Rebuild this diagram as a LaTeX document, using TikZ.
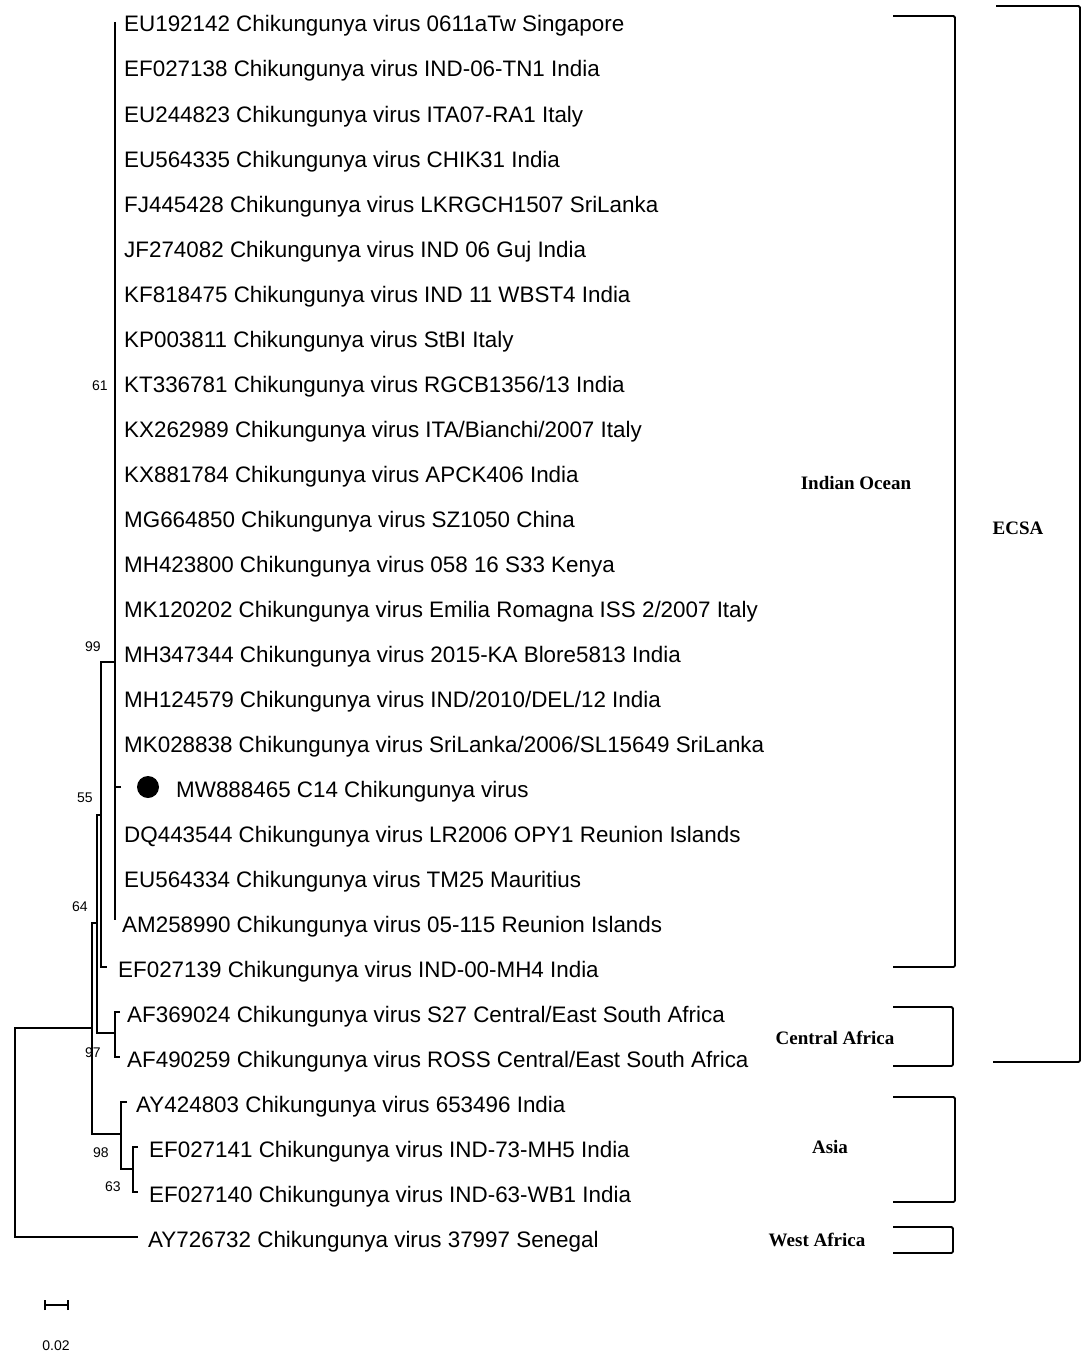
\documentclass[tikz,border=0pt]{standalone}
\usepackage{fontspec}
\setmainfont{Liberation Serif}
\setsansfont{Liberation Sans}
\tikzset{
  branch/.style={line width=1.3pt},
  bracket/.style={line width=1.8pt, rounded corners=1.5pt},
  tip/.style={anchor=base west, inner sep=0pt, font=\sffamily\fontsize{22.4}{26}\selectfont},
  boot/.style={inner sep=0pt, font=\sffamily\fontsize{14}{16}\selectfont},
  clade/.style={inner sep=0pt, font=\bfseries\fontsize{19}{22}\selectfont}
}
\begin{document}
\begin{tikzpicture}[x=1pt,y=-1pt]
\useasboundingbox (0,0) rectangle (1084,1354);

% taxa
\node[tip] (t1) at (124,32) {EU192142 Chikungunya virus 0611aTw Singapore};
\node[tip] (t2) at (124,77) {EF027138 Chikungunya virus IND-06-TN1 India};
\node[tip] (t3) at (124,122) {EU244823 Chikungunya virus ITA07-RA1 Italy};
\node[tip] (t4) at (124,167) {EU564335 Chikungunya virus CHIK31 India};
\node[tip] (t5) at (124,212) {FJ445428 Chikungunya virus LKRGCH1507 SriLanka};
\node[tip] (t6) at (124,257) {JF274082 Chikungunya virus IND 06 Guj India};
\node[tip] (t7) at (124,302) {KF818475 Chikungunya virus IND 11 WBST4 India};
\node[tip] (t8) at (124,347) {KP003811 Chikungunya virus StBI Italy};
\node[tip] (t9) at (124,392) {KT336781 Chikungunya virus RGCB1356/13 India};
\node[tip] (t10) at (124,437) {KX262989 Chikungunya virus ITA/Bianchi/2007 Italy};
\node[tip] (t11) at (124,482) {KX881784 Chikungunya virus APCK406 India};
\node[tip] (t12) at (124,527) {MG664850 Chikungunya virus SZ1050 China};
\node[tip] (t13) at (124,572) {MH423800 Chikungunya virus 058 16 S33 Kenya};
\node[tip] (t14) at (124,617) {MK120202 Chikungunya virus Emilia Romagna ISS 2/2007 Italy};
\node[tip] (t15) at (124,662) {MH347344 Chikungunya virus 2015-KA Blore5813 India};
\node[tip] (t16) at (124,707) {MH124579 Chikungunya virus IND/2010/DEL/12 India};
\node[tip] (t17) at (124,752) {MK028838 Chikungunya virus SriLanka/2006/SL15649 SriLanka};
\node[tip] (t18) at (176,797) {MW888465 C14 Chikungunya virus};
\node[tip] (t19) at (124,842) {DQ443544 Chikungunya virus LR2006 OPY1 Reunion Islands};
\node[tip] (t20) at (124,887) {EU564334 Chikungunya virus TM25 Mauritius};
\node[tip] (t21) at (122,932) {AM258990 Chikungunya virus 05-115 Reunion Islands};
\node[tip] (t22) at (118,977) {EF027139 Chikungunya virus IND-00-MH4 India};
\node[tip] (t23) at (127,1022) {AF369024 Chikungunya virus S27 Central/East South Africa};
\node[tip] (t24) at (127,1067) {AF490259 Chikungunya virus ROSS Central/East South Africa};
\node[tip] (t25) at (136,1112) {AY424803 Chikungunya virus 653496 India};
\node[tip] (t26) at (149,1157) {EF027141 Chikungunya virus IND-73-MH5 India};
\node[tip] (t27) at (149,1202) {EF027140 Chikungunya virus IND-63-WB1 India};
\node[tip] (t28) at (148,1247) {AY726732 Chikungunya virus 37997 Senegal};

\fill (148,787) circle (11);

% inner nodes and branch ends
\coordinate (r) at (15,1028);
\coordinate (n64) at (92,1028);
\coordinate (n55) at (97,923);
\coordinate (n99) at (101,815);
\coordinate (n61) at (115,662);
\coordinate (c61a) at (115,22);
\coordinate (c61b) at (115,920);
\coordinate (e18) at (121,787);
\coordinate (e22) at (107,967);
\coordinate (nCA) at (115,1033);
\coordinate (e23) at (120,1012);
\coordinate (e24) at (120,1057);
\coordinate (nAsia) at (121,1134);
\coordinate (e25) at (127,1102);
\coordinate (n63) at (133,1169);
\coordinate (e26) at (138,1147);
\coordinate (e27) at (138,1192);
\coordinate (e28) at (138,1237);

\draw[branch] (n64) -| (r) |- (e28);
\draw[branch] (n55) -| (n64) |- (nAsia);
\draw[branch] (n99) -| (n55) |- (nCA);
\draw[branch] (n61) -| (n99) |- (e22);
\draw[branch] (c61a) -- (c61b);
\draw[branch] (e18) -- (e18 -| n61);
\draw[branch] (e23) -| (nCA) |- (e24);
\draw[branch] (e25) -| (nAsia) |- (n63);
\draw[branch] (e26) -| (n63) |- (e27);

% bootstrap values
\node[boot] (b61) at (100,386) {61};
\node[boot] (b99) at (93,647) {99};
\node[boot] (b55) at (85,798) {55};
\node[boot] (b64) at (80,907) {64};
\node[boot] (b97) at (93,1053) {97};
\node[boot] (b98) at (101,1153) {98};
\node[boot] (b63) at (113,1187) {63};

% clades
\node[clade] (io) at (856,483) {Indian Ocean};
\node[clade] (ecsa) at (1018,528) {ECSA};
\node[clade] (ca) at (835,1038) {Central Africa};
\node[clade] (asia) at (830,1147) {Asia};
\node[clade] (wa) at (817,1240) {West Africa};
\draw[bracket] (893,16) -| (955,967) -- (893,967);
\draw[bracket] (996,6) -| (1080,1062) -- (993,1062);
\draw[bracket] (893,1007) -| (953,1066) -- (893,1066);
\draw[bracket] (893,1097) -| (955,1202) -- (893,1202);
\draw[bracket] (893,1227) -| (953,1253) -- (893,1253);

% scale
\coordinate (s1) at (45,1305);
\coordinate (s2) at (68,1305);
\draw[branch] (s1) -- (s2);
\draw[branch] ([yshift=-5]s1) -- ([yshift=5]s1);
\draw[branch] ([yshift=-5]s2) -- ([yshift=5]s2);
\node[boot] (sl) at (56,1346) {0.02};
\end{tikzpicture}
\end{document}
